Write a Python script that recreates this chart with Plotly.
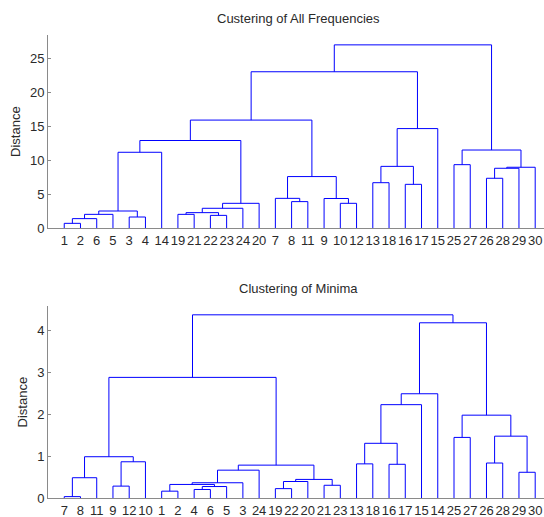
import plotly.graph_objects as go

# ---------------- data ----------------
# Top dendrogram: "Custering of All Frequencies"
top_leaf_order = [1, 2, 6, 5, 3, 4, 14, 19, 21, 22, 23, 24, 20, 7, 8, 11, 9, 10, 12,
                  13, 18, 16, 17, 15, 25, 27, 26, 28, 29, 30]
# merges: node ids 1..30 are leaves, 31.. are clusters created in this order
top_left = [1, 31, 32, 3, 33, 35, 19, 22, 37, 39, 40, 36, 8, 7, 10, 9, 44, 42,
            13, 16, 49, 51, 48, 25, 26, 55, 56, 54, 53]
top_right = [2, 6, 5, 4, 34, 14, 21, 23, 38, 24, 20, 41, 11, 43, 12, 45, 46, 47,
             18, 17, 50, 15, 52, 27, 28, 29, 30, 57, 58]
top_height = [0.73, 1.42, 2.05, 1.66, 2.54, 11.17, 2.05, 1.9, 2.3, 2.94, 3.67, 12.9,
              3.92, 4.4, 3.67, 4.38, 7.6, 15.9, 6.7, 6.46, 9.1, 14.65, 23.0,
              9.35, 7.35, 8.82, 8.97, 11.5, 26.95]
top_yticks = [0, 5, 10, 15, 20, 25]

# Bottom dendrogram: "Clustering of Minima"
bot_leaf_order = [7, 8, 11, 9, 12, 10, 1, 2, 4, 6, 5, 3, 24, 19, 22, 20, 21, 23,
                  13, 18, 16, 17, 15, 14, 25, 27, 26, 28, 29, 30]
bot_left = [7, 31, 9, 33, 32, 1, 4, 37, 36, 39, 40, 19, 42, 21, 43, 41, 35,
            13, 16, 48, 50, 51, 25, 26, 29, 54, 53, 52, 47]
bot_right = [8, 11, 12, 10, 34, 2, 6, 5, 38, 3, 24, 22, 20, 23, 44, 45, 46,
             18, 17, 49, 15, 14, 27, 28, 30, 55, 56, 57, 58]
bot_height = [0.04, 0.49, 0.29, 0.87, 0.99, 0.17, 0.21, 0.28, 0.33, 0.37, 0.67,
              0.23, 0.40, 0.31, 0.45, 0.79, 2.88, 0.82, 0.81, 1.31, 2.23, 2.49,
              1.45, 0.84, 0.62, 1.48, 1.98, 4.18, 4.37]
bot_yticks = [0, 1, 2, 3, 4]

titles = ["Custering of All Frequencies", "Clustering of Minima"]
y_label = "Distance"


def dendro_lines(order, left, right, height):
    n = len(order)
    pos = {leaf: i + 1 for i, leaf in enumerate(order)}
    hgt = {leaf: 0.0 for leaf in order}
    xs, ys = [], []
    for k, (a, b, h) in enumerate(zip(left, right, height)):
        xa, xb = pos[a], pos[b]
        xs += [xa, xa, xb, xb, None]
        ys += [hgt[a], h, h, hgt[b], None]
        cid = n + 1 + k
        pos[cid] = (xa + xb) / 2
        hgt[cid] = h
    return xs, ys


fig = go.Figure()
W, H = 544, 517
ML = 48
unit = 16.24
xmax = (W - ML) / unit

panels = [
    (top_leaf_order, top_left, top_right, top_height, top_yticks, 28.4, (35, 228.3), 18),
    (bot_leaf_order, bot_left, bot_right, bot_height, bot_yticks, 4.58, (306, 498.3), 288),
]

FONT = "Liberation Sans"
axis_col = "#8a8a8a"
text_col = "#2a2a2a"

for i, (order, lf, rt, ht, yt, ymax, (ytop, ybot), ty) in enumerate(panels):
    xs, ys = dendro_lines(order, lf, rt, ht)
    xa = "x" if i == 0 else "x2"
    ya = "y" if i == 0 else "y2"
    fig.add_trace(go.Scatter(x=xs, y=ys, mode="lines",
                             line=dict(color="#0000ff", width=1),
                             xaxis=xa, yaxis=ya, showlegend=False, hoverinfo="skip"))
    dom = [(H - ybot) / H, (H - ytop) / H]
    xkey = "xaxis" if i == 0 else "xaxis2"
    ykey = "yaxis" if i == 0 else "yaxis2"
    fig.layout[xkey] = dict(
        domain=[0, 1], range=[0, xmax], anchor=ya, automargin=False,
        tickmode="array", tickvals=list(range(1, len(order) + 1)),
        ticktext=[str(v) for v in order], ticks="", tickangle=0,
        showgrid=False, zeroline=False,
        showline=True, linecolor=axis_col, linewidth=1,
        tickfont=dict(family=FONT, size=13, color=text_col),
    )
    fig.layout[ykey] = dict(
        domain=dom, range=[0, ymax], anchor=xa, automargin=False,
        tickmode="array", tickvals=yt, ticks="inside", ticklen=3,
        tickcolor=axis_col, showgrid=False, zeroline=False,
        showline=True, linecolor=axis_col, linewidth=1,
        tickfont=dict(family=FONT, size=13, color=text_col),
        title=dict(text=y_label, font=dict(family=FONT, size=13, color=text_col), standoff=6),
    )
    fig.add_annotation(text=titles[i], xref="paper", yref="paper",
                       x=(298 - ML) / (W - ML), y=(H - ty) / H,
                       xanchor="center", yanchor="middle", showarrow=False,
                       font=dict(family=FONT, size=13, color=text_col))

fig.update_layout(width=W, height=H, margin=dict(l=ML, r=0, t=0, b=0),
                  plot_bgcolor="white", paper_bgcolor="white")
fig.write_html("out.html", config={"displayModeBar": False},
               post_script="document.body.style.margin='0';document.body.style.overflow='hidden';")
